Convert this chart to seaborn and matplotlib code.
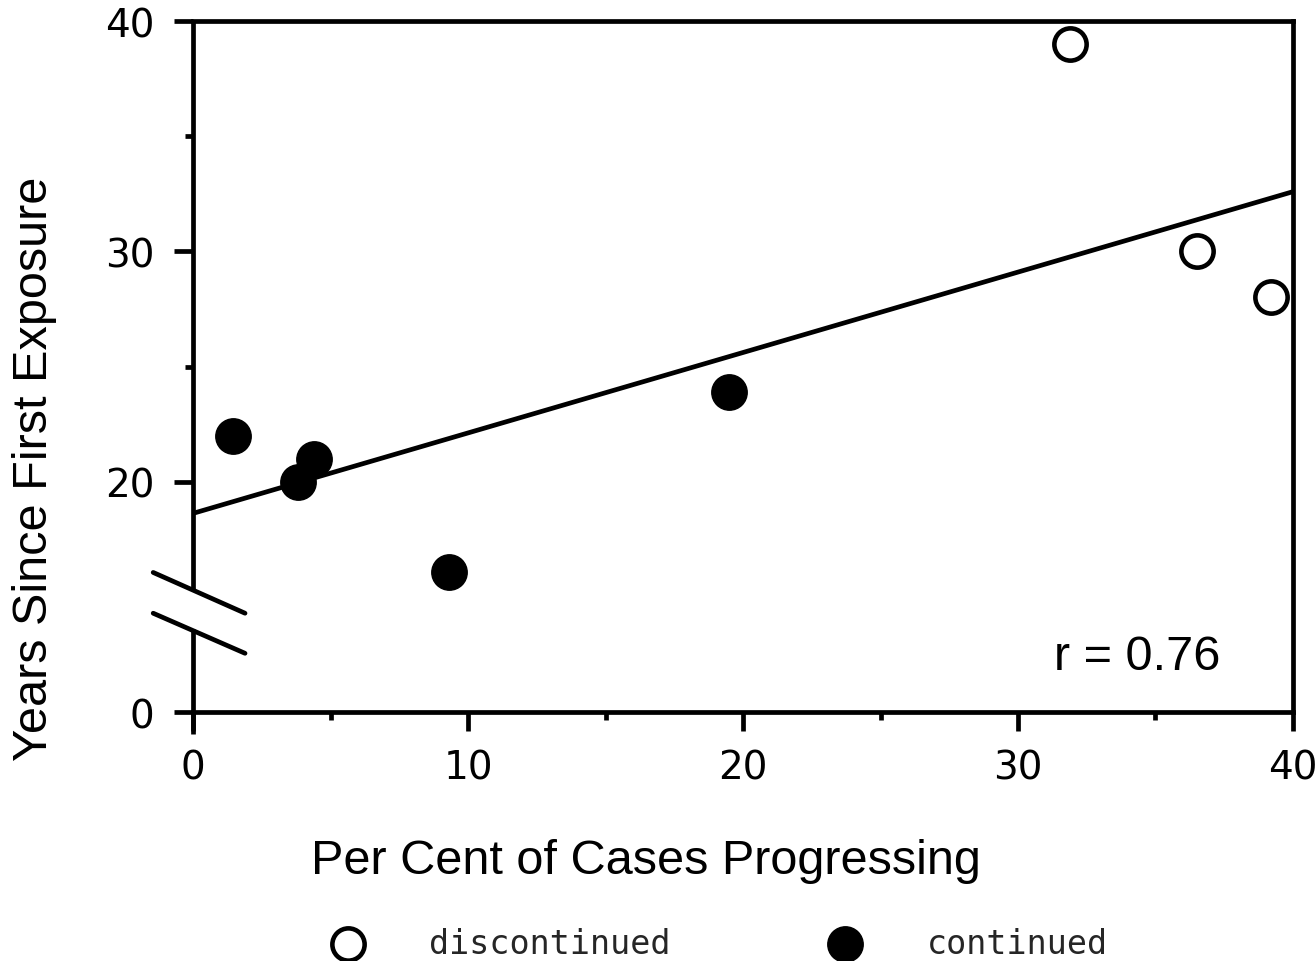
import pandas as pd
import seaborn as sns
import matplotlib.pyplot as plt
from matplotlib.ticker import FixedLocator

# values
pct_progressing = [1.45, 3.8, 4.4, 9.3, 19.5, 31.9, 36.5, 39.2]
years_exposure = [22, 20, 21, 16.1, 23.9, 39, 30, 28]
status = ["continued"] * 5 + ["discontinued"] * 3

df = pd.DataFrame({"pct": pct_progressing, "years": years_exposure, "status": status})

sns.set_theme(style="white")
plt.rcParams["font.family"] = ["Liberation Sans", "DejaVu Sans"]

fig = plt.figure(figsize=(13.16, 9.62), dpi=100)
ax = fig.add_axes([0.1467, 0.2588, 0.8358, 0.7183])

ax.set_xlim(0, 40)
ax.set_ylim(10, 40)

# regression line across the full x range
sns.regplot(data=df, x="pct", y="years", scatter=False, ci=None, truncate=False,
            line_kws={"color": "black", "lw": 3.4}, ax=ax)

sns.scatterplot(data=df[df.status == "discontinued"], x="pct", y="years", s=540,
                color="white", edgecolor="black", linewidth=3.3, label="discontinued",
                ax=ax, zorder=3, legend=False)
sns.scatterplot(data=df[df.status == "continued"], x="pct", y="years", s=650,
                color="black", edgecolor="black", linewidth=1, label="continued",
                ax=ax, zorder=3, legend=False)

# spines / ticks
for side in ["top", "right", "bottom"]:
    ax.spines[side].set_linewidth(3.4)
    ax.spines[side].set_color("black")
ax.spines["left"].set_visible(False)
# left spine with a break between ~13.6 and ~15.3
ax.plot([0, 0], [15.3, 40], color="black", lw=3.4, clip_on=False, solid_capstyle="butt")
ax.plot([0, 0], [9.05, 13.6], color="black", lw=3.4, clip_on=False, solid_capstyle="butt")
ax.plot([-1.45, 1.89], [16.06, 14.29], color="black", lw=3.4, clip_on=False, solid_capstyle="round")
ax.plot([-1.45, 1.89], [14.29, 12.55], color="black", lw=3.4, clip_on=False, solid_capstyle="round")

ax.set_xticks([0, 10, 20, 30, 40])
ax.xaxis.set_minor_locator(FixedLocator([5, 15, 25, 35]))
ax.set_yticks([10, 20, 30, 40])
ax.set_yticklabels(["0", "20", "30", "40"])
ax.yaxis.set_minor_locator(FixedLocator([25, 35]))
ax.tick_params(axis="both", which="major", direction="out", length=14, width=3.4,
               color="black", bottom=True, left=True, labelsize=28, labelcolor="black")
ax.tick_params(axis="x", which="major", pad=12)
ax.tick_params(axis="y", which="major", pad=14)
ax.tick_params(axis="both", which="minor", direction="out", length=6, width=3.4,
               color="black", bottom=True, left=True)
for lab in ax.get_xticklabels() + ax.get_yticklabels():
    lab.set_fontfamily("DejaVu Sans")

ax.set_xlabel("Per Cent of Cases Progressing", fontsize=35, color="black")
ax.set_ylabel("Years Since First Exposure", fontsize=35, color="black")
ax.xaxis.set_label_coords(0.412, -0.182)
ax.yaxis.set_label_coords(-0.124, 0.353)

ax.text(0.858, 0.08, "r = 0.76", transform=ax.transAxes, fontsize=35,
        ha="center", va="center", color="black")

handles, labels = ax.get_legend_handles_labels()
order = [labels.index("discontinued"), labels.index("continued")]
fig.legend([handles[i] for i in order], [labels[i] for i in order],
           loc="center left", bbox_to_anchor=(0.2515, 0.0185), ncol=2, frameon=False,
           borderpad=0, borderaxespad=0, handlelength=1.0, handletextpad=1.95,
           columnspacing=4.72, prop={"family": "DejaVu Sans Mono", "size": 24})

fig.savefig("out.png", dpi=100)
